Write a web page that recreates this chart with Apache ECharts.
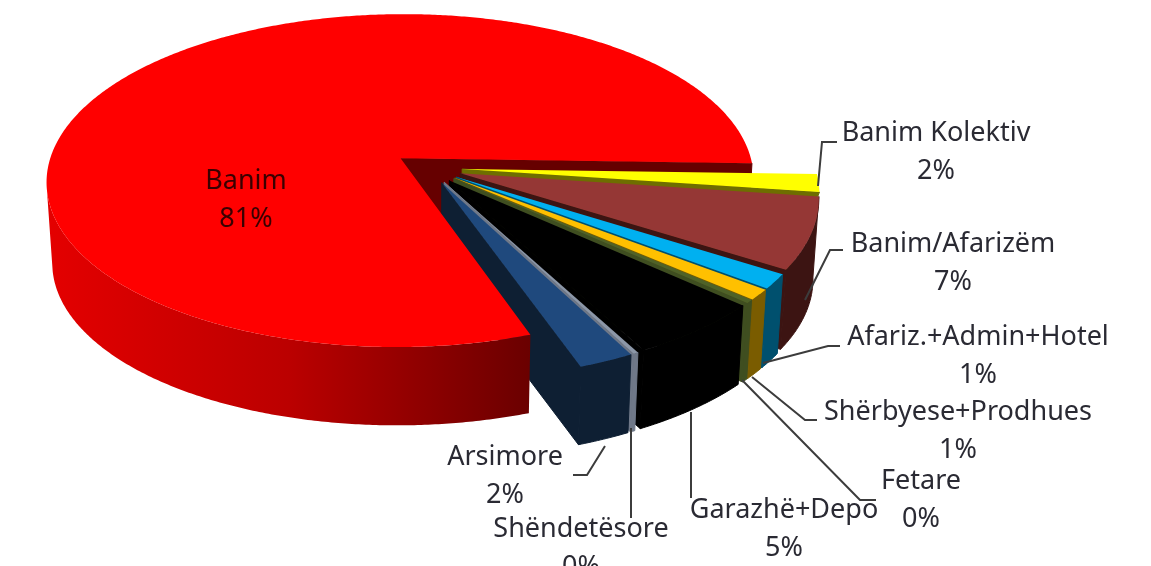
<!DOCTYPE html>
<html>
<head>
<meta charset="utf-8">
<style>
  html, body { margin: 0; padding: 0; background: #fff; }
  #main { width: 1151px; height: 566px; }
  /* the source picture is a soft, scaled up screenshot */
  #main canvas { filter: blur(0.5px); }
</style>
<script src="https://cdn.jsdelivr.net/npm/echarts@6/dist/echarts.min.js"></script>
</head>
<body>
<div id="main"></div>
<script>
// data
var categories = ['Banim', 'Banim Kolektiv', 'Banim/Afarizëm', 'Afariz.+Admin+Hotel', 'Shërbyese+Prodhues', 'Fetare', 'Garazhë+Depo', 'Shëndetësore', 'Arsimore']
var values = [80.8, 1.7, 6.8, 1.4, 1.0, 0.3, 5.49, 0.2, 2.2]

// colours, top face and side wall
var topColors = ['#ff0000', '#ffff00', '#953735', '#00b0f0', '#ffc000', '#4f6228', '#000000', '#8c97a8', '#1f497d']
var wallColors = ['#660000', '#6e6e00', '#3c1412', '#00506e', '#7a5c00', '#3f4e20', '#000000', '#6f7888', '#0e1f33']

// label centres and leader lines (page pixels)
var labelPos = [[246, 200], [936, 152], [953, 263], [978, 356], [958, 431], [921, 500], [784, 529], [581, 548], [505, 476]]
var leaders = [
  null,
  [[818, 186], [822, 142], [837, 142]],
  [[805, 300], [830, 250], [843, 250]],
  [[763, 363], [828, 346], [840, 346]],
  [[752, 377], [805, 420], [817, 420]],
  [[742, 380], [860, 500], [876, 500]],
  [[691, 412], [691, 498]],
  [[631, 428], [631, 518]],
  [[605, 446], [587, 475], [573, 475]],
]

// pie geometry
var cx = 428, cy = 167.7 // projected centre
var rx = 353, ry = 166 // radii
var persp = 0.135 // perspective
var explode = 0.097 // explosion, fraction of radius
var depth = 81, depthScale = 0.985
var startAngle = 70.5 // degrees, clockwise from east
var backEdge = 0.17 // slices ending above this sit behind their neighbour

var total = values.reduce(function (a, b) { return a + b }, 0)
var spans = []
var acc = startAngle
values.forEach(function (v) {
  var sweep = (v / total) * 360
  spans.push([acc, acc + sweep])
  acc += sweep
})

function rad(a) {
  return (a * Math.PI) / 180
}

// slice plane -> screen
function project(mid, r, angle) {
  var u = explode * Math.cos(rad(mid)) + r * Math.cos(rad(angle))
  var v = explode * Math.sin(rad(mid)) + r * Math.sin(rad(angle))
  var w = 1 / (1 - persp * v)
  return [cx + rx * u * w, cy + ry * v * w]
}

function lower(p) {
  return [cx + (p[0] - cx) * depthScale, cy + (p[1] - cy) * depthScale + depth]
}

function planeV(mid, a) {
  return explode * Math.sin(rad(mid)) + Math.sin(rad(a))
}

function renderSlice(params, api) {
  var i = params.dataIndex
  var a0 = spans[i][0]
  var a1 = spans[i][1]
  var mid = (a0 + a1) / 2
  var apex = project(mid, 0, 0)
  var arc = []
  var steps = Math.max(2, Math.ceil((a1 - a0) * 2))
  for (var s = 0; s <= steps; s++) {
    arc.push(a0 + ((a1 - a0) * s) / steps)
  }
  var topPts = [apex].concat(arc.map(function (a) { return project(mid, 1, a) }))

  var isMain = i === 0
  var hidden = !isMain && planeV(mid, a1) < backEdge
  // only the part of the rim that faces the viewer has a wall
  var front = hidden ? [] : arc.filter(function (a) { return planeV(mid, a) >= persp })
  var upper = front.map(function (a) { return project(mid, 1, a) })
  var rimPts = upper.concat(upper.map(lower).reverse())

  var endTop = project(mid, 1, a1)
  var endLow = lower(hidden ? project(mid, 0.93, a1) : endTop)
  var edgePts = [apex, endTop, endLow, lower(apex)]

  var children = []

  // cut edge wall, seen when it turns to the viewer
  if (Math.cos(rad(a1)) > 0) {
    children.push({
      type: 'polygon',
      z2: isMain ? 1 : 10 + i * 3,
      shape: { points: edgePts },
      style: { fill: wallColors[i], stroke: wallColors[i], lineWidth: 1 },
    })
  }
  if (rimPts.length > 2) {
    children.push({
      type: 'polygon',
      z2: isMain ? 60 : 11 + i * 3,
      shape: { points: rimPts },
      style: isMain
        ? {
            fill: new echarts.graphic.LinearGradient(0, 0, 1, 0, [
              { offset: 0, color: '#e40000' },
              { offset: 0.5, color: '#bb0000' },
              { offset: 1, color: '#6a0000' },
            ]),
          }
        : { fill: wallColors[i], stroke: wallColors[i], lineWidth: 1 },
    })
  }
  children.push({
    type: 'polygon',
    z2: isMain ? 61 : 12 + i * 3,
    shape: { points: topPts },
    style: { fill: topColors[i] },
  })

  if (leaders[i]) {
    children.push({
      type: 'polyline',
      z2: 70,
      shape: { points: leaders[i] },
      style: { stroke: '#3c3c3c', lineWidth: 2, fill: null },
    })
  }
  children.push({
    type: 'text',
    z2: 80,
    x: labelPos[i][0],
    y: labelPos[i][1],
    style: {
      text: categories[i] + '\n' + Math.round(api.value(0)) + '%',
      font: '27px "Noto Sans"',
      lineHeight: 38,
      fill: i === 0 ? '#3a0000' : '#2a2a33',
      align: 'center',
      verticalAlign: 'middle',
    },
  })
  return { type: 'group', children: children }
}

var chart = echarts.init(document.getElementById('main'))
chart.setOption({
  backgroundColor: '#ffffff',
  animation: false,
  series: [
    {
      type: 'custom',
      coordinateSystem: 'none',
      renderItem: renderSlice,
      data: values.map(function (v, i) { return { name: categories[i], value: [v] } }),
    },
  ],
})
</script>
</body>
</html>
